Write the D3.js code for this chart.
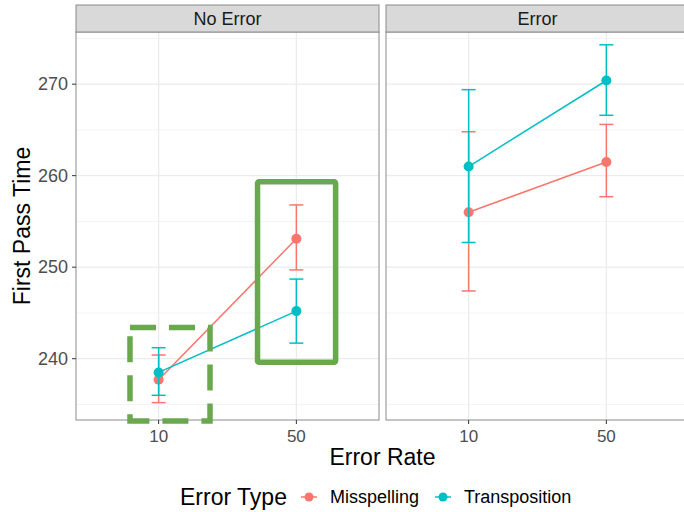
<!DOCTYPE html>
<html>
<head>
<meta charset="utf-8">
<script src="https://cdn.jsdelivr.net/npm/d3@7"></script>
<style>
  body { margin: 0; background: #fff; }
  svg { display: block; font-family: "Liberation Sans", Arial, sans-serif; }
</style>
</head>
<body>
<svg id="chart" width="684" height="512"></svg>
<script>
const panels = ["No Error", "Error"];
const errorRates = ["10", "50"];
const errorTypes = ["Misspelling", "Transposition"];
const typeColors = ["#F8766D", "#00BFC4"];
const yTicks = [240, 250, 260, 270];
const yMinorTicks = [235, 245, 255, 265, 275];

// mean, lower, upper per panel / type / rate
const misspellingMean = { "No Error": [237.7, 253.1], "Error": [256.0, 261.5] };
const misspellingLow  = { "No Error": [235.2, 249.7], "Error": [247.4, 257.7] };
const misspellingHigh = { "No Error": [240.4, 256.8], "Error": [264.8, 265.6] };
const transpositionMean = { "No Error": [238.5, 245.2], "Error": [261.0, 270.4] };
const transpositionLow  = { "No Error": [236.0, 241.7], "Error": [252.7, 266.6] };
const transpositionHigh = { "No Error": [241.2, 248.7], "Error": [269.4, 274.3] };

// highlight boxes on the "No Error" panel, in data units (x: discrete position 1..2)
const solidBox = { x0: 1.718, x1: 2.285, y0: 239.62, y1: 259.33 };
const dashedBox = { x0: 0.792, x1: 1.373, y0: 233.2, y1: 243.4 };

const series = [
  { type: "Misspelling", mean: misspellingMean, low: misspellingLow, high: misspellingHigh },
  { type: "Transposition", mean: transpositionMean, low: transpositionLow, high: transpositionHigh }
];

const svg = d3.select("#chart");
const margin = { top: 32, left: 76, bottom: 420 };
const panelW = 303, panelGap = 7, stripH = 27;
const color = d3.scaleOrdinal().domain(errorTypes).range(typeColors);

const y = d3.scaleLinear().domain([233.3, 275.7]).range([margin.bottom, margin.top]);
// discrete x with ggplot's 0.6 expansion
const xPos = d3.scaleLinear().domain([0.4, 2.6]).range([0, panelW]);
const x = r => xPos(errorRates.indexOf(r) + 1);

panels.forEach((p, pi) => {
  const left = margin.left + pi * (panelW + panelGap);
  const g = svg.append("g").attr("transform", `translate(${left},0)`);

  // grid
  g.selectAll(".minor").data(yMinorTicks).join("line")
    .attr("x1", 0).attr("x2", panelW)
    .attr("y1", d => y(d)).attr("y2", d => y(d))
    .attr("stroke", "#f4f4f4").attr("stroke-width", 1);
  g.selectAll(".major").data(yTicks).join("line")
    .attr("x1", 0).attr("x2", panelW)
    .attr("y1", d => y(d)).attr("y2", d => y(d))
    .attr("stroke", "#ebebeb").attr("stroke-width", 1.2);
  g.selectAll(".vmajor").data(errorRates).join("line")
    .attr("x1", d => x(d)).attr("x2", d => x(d))
    .attr("y1", margin.top).attr("y2", margin.bottom)
    .attr("stroke", "#ebebeb").attr("stroke-width", 1.2);

  // data
  series.forEach(s => {
    const c = color(s.type);
    const pts = errorRates.map((r, i) => ({ r, m: s.mean[p][i], lo: s.low[p][i], hi: s.high[p][i] }));
    g.append("path").datum(pts)
      .attr("fill", "none").attr("stroke", c).attr("stroke-width", 1.5)
      .attr("d", d3.line().x(d => x(d.r)).y(d => y(d.m)));
    const eb = g.append("g").attr("stroke", c).attr("stroke-width", 1.5);
    pts.forEach(d => {
      eb.append("line").attr("x1", x(d.r)).attr("x2", x(d.r)).attr("y1", y(d.lo)).attr("y2", y(d.hi));
      eb.append("line").attr("x1", x(d.r) - 7).attr("x2", x(d.r) + 7).attr("y1", y(d.lo)).attr("y2", y(d.lo));
      eb.append("line").attr("x1", x(d.r) - 7).attr("x2", x(d.r) + 7).attr("y1", y(d.hi)).attr("y2", y(d.hi));
    });
    g.selectAll(null).data(pts).join("circle")
      .attr("cx", d => x(d.r)).attr("cy", d => y(d.m)).attr("r", 5)
      .attr("fill", c);
  });

  // border
  g.append("rect").attr("x", 0).attr("y", margin.top).attr("width", panelW)
    .attr("height", margin.bottom - margin.top)
    .attr("fill", "none").attr("stroke", "#8a8a8a").attr("stroke-width", 1);

  // strip
  g.append("rect").attr("x", 0).attr("y", margin.top - stripH).attr("width", panelW).attr("height", stripH)
    .attr("fill", "#d9d9d9").attr("stroke", "#8a8a8a").attr("stroke-width", 1);
  g.append("text").attr("x", panelW / 2).attr("y", margin.top - stripH / 2 + 6)
    .attr("text-anchor", "middle").attr("font-size", 18).attr("fill", "#1a1a1a").text(p);

  // x axis
  const xa = g.append("g");
  xa.selectAll("line").data(errorRates).join("line")
    .attr("x1", d => x(d)).attr("x2", d => x(d))
    .attr("y1", margin.bottom).attr("y2", margin.bottom + 4)
    .attr("stroke", "#333");
  xa.selectAll("text").data(errorRates).join("text")
    .attr("x", d => x(d)).attr("y", margin.bottom + 22)
    .attr("text-anchor", "middle").attr("font-size", 17).attr("fill", "#4d4d4d").text(d => d);

  if (pi === 0) {
    const boxes = g.append("g").attr("fill", "none").attr("stroke", "#6aa84f").attr("stroke-width", 5.5);
    boxes.append("rect")
      .attr("x", xPos(solidBox.x0)).attr("y", y(solidBox.y1))
      .attr("width", xPos(solidBox.x1) - xPos(solidBox.x0))
      .attr("height", y(solidBox.y0) - y(solidBox.y1))
      .attr("rx", 1.5);
    boxes.append("rect")
      .attr("x", xPos(dashedBox.x0)).attr("y", y(dashedBox.y1))
      .attr("width", xPos(dashedBox.x1) - xPos(dashedBox.x0))
      .attr("height", y(dashedBox.y0) - y(dashedBox.y1))
      .attr("stroke-dasharray", "26 13");
  }
});

// y axis
const ya = svg.append("g");
ya.selectAll("line").data(yTicks).join("line")
  .attr("x1", margin.left - 4).attr("x2", margin.left)
  .attr("y1", d => y(d)).attr("y2", d => y(d)).attr("stroke", "#333");
ya.selectAll("text").data(yTicks).join("text")
  .attr("x", margin.left - 8).attr("y", d => y(d) + 6)
  .attr("text-anchor", "end").attr("font-size", 18).attr("fill", "#4d4d4d").text(d => d);

// titles
svg.append("text").attr("transform", `translate(30,${(margin.top + margin.bottom) / 2}) rotate(-90)`)
  .attr("text-anchor", "middle").attr("font-size", 23).attr("fill", "#000").text("First Pass Time");
svg.append("text").attr("x", margin.left + (2 * panelW + panelGap) / 2).attr("y", 465)
  .attr("text-anchor", "middle").attr("font-size", 23).attr("fill", "#000").text("Error Rate");

// legend
const lg = svg.append("g");
lg.append("text").attr("x", 180).attr("y", 505).attr("font-size", 23).attr("fill", "#000").text("Error Type");
const keyX = [309, 443];
errorTypes.forEach((t, i) => {
  const k = lg.append("g").attr("transform", `translate(${keyX[i]},497)`);
  k.append("line").attr("x1", -8).attr("x2", 8).attr("stroke", color(t)).attr("stroke-width", 1.5);
  k.append("circle").attr("r", 4.5).attr("fill", color(t));
  lg.append("text").attr("x", keyX[i] + 21).attr("y", 503).attr("font-size", 18).attr("fill", "#000").text(t);
});
</script>
</body>
</html>
